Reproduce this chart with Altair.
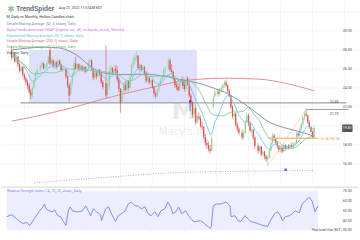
import altair as alt
import pandas as pd

FONT = "Roboto"

HOLIDAYS = [17, 33, 58, 97, 128, 143, 153]

OPEN = [
    28.0, 27.2, 27.6, 26.9, 27.3, 26.5, 25.8, 26.2, 25.4, 25.0, 24.6, 24.3, 23.6, 23.2, 24.0, 24.8, 25.5,
    25.9, 26.3, 26.6, 26.1, 26.2, 26.6, 28.0, 26.6, 26.9, 26.3, 26.7, 26.2, 26.9, 26.5, 25.9,
    26.0, 25.2, 24.3, 23.4, 24.6, 25.4, 26.6, 26.1, 26.5, 26.0, 26.3, 25.9, 26.2, 25.7, 26.0, 26.7, 26.9, 26.0, 25.1, 25.6, 25.2, 25.9, 25.5, 24.6,
    24.5, 23.3, 24.2, 25.9, 26.1, 25.6, 26.0, 25.8, 24.9, 23.9, 22.5, 23.7, 24.3, 23.8, 24.7, 24.0, 25.2, 26.4, 26.9, 27.2, 27.4, 26.1, 26.4, 25.9, 26.2, 25.6, 24.8, 25.1, 24.6, 24.8, 24.1, 23.4, 23.2, 23.8, 24.4, 24.9, 25.2, 25.9,
    26.0, 26.9, 25.9, 25.7, 25.0, 24.3, 24.1, 23.8, 24.6, 24.9, 24.4, 23.9, 25.0, 24.4, 23.2, 22.5, 21.2, 21.9, 20.4, 21.0, 20.8, 20.0, 19.9, 18.9, 18.2, 18.0, 17.6, 17.4, 22.0, 23.1,
    23.6, 23.4, 23.8, 24.0, 24.3, 24.6, 24.3, 23.7, 23.2, 22.0, 21.0, 21.3, 20.1, 19.7,
    19.3, 18.8, 19.3, 20.4, 21.1, 20.3, 19.5, 19.6, 18.8,
    17.9, 17.4, 17.8, 17.0, 17.3, 16.8, 16.5, 16.7, 17.4, 18.2, 19.0, 18.6, 18.2, 17.8, 17.5, 17.7, 17.3, 18.0, 17.6, 17.9, 17.7, 18.0, 17.8, 18.1, 18.2, 19.2, 19.0, 19.7, 20.2, 20.9, 21.3, 21.1, 20.4, 19.9, 19.4, 18.8,
]
HIGH = [
    28.4, 27.9, 27.8, 27.5, 27.4, 26.7, 26.4, 26.3, 25.6, 25.2, 24.9, 24.5, 23.9, 24.2, 25.0, 25.7, 26.1,
    26.5, 26.9, 26.7, 26.5, 26.8, 27.4, 28.2, 27.2, 27.0, 26.9, 26.8, 27.1, 27.0, 26.6, 26.4,
    26.1, 25.3, 24.5, 24.8, 25.6, 26.8, 27.3, 26.7, 26.6, 26.5, 26.4, 26.4, 26.3, 26.2, 27.0, 27.2, 27.0, 26.1, 25.8, 25.7, 26.1, 26.0, 25.6, 24.8,
    28.5, 24.6, 26.3, 26.4, 26.2, 26.2, 26.4, 26.3, 25.1, 24.0, 23.9, 24.6, 24.7, 24.9, 24.8, 25.4, 26.6, 27.2, 27.5, 27.9, 27.5, 26.6, 26.5, 26.4, 26.3, 25.7, 25.3, 25.2, 25.0, 24.9, 24.2, 23.6, 24.0, 24.6, 25.1, 25.4, 26.1, 26.3,
    27.2, 27.1, 26.5, 25.8, 25.1, 24.6, 24.5, 24.8, 25.1, 25.2, 24.9, 25.3, 25.2, 24.7, 23.4, 22.6, 22.3, 22.3, 21.2, 21.4, 21.1, 20.5, 20.0, 19.2, 18.6, 18.4, 18.0, 18.9, 23.3, 23.8,
    23.9, 24.0, 24.2, 24.5, 24.8, 24.9, 24.4, 23.9, 23.3, 22.2, 21.6, 21.4, 20.4, 19.9,
    19.6, 19.5, 20.6, 21.4, 21.3, 20.5, 19.9, 19.7, 18.9,
    18.2, 18.0, 17.9, 17.5, 17.4, 17.0, 17.0, 17.6, 18.4, 19.3, 19.2, 18.8, 18.4, 18.0, 17.9, 17.8, 18.2, 18.1, 18.0, 18.1, 18.2, 18.3, 18.3, 18.4, 19.4, 19.4, 19.9, 20.4, 21.1, 21.5, 21.73, 21.2, 20.6, 20.0, 19.5, 20.1,
]
LOW = [
    27.0, 26.9, 26.6, 26.7, 26.2, 25.6, 25.6, 25.2, 24.8, 24.3, 23.9, 23.4, 22.8, 23.0, 23.9, 24.6, 25.3,
    25.7, 26.1, 25.9, 25.9, 26.0, 26.5, 26.4, 26.4, 26.1, 26.0, 26.0, 26.1, 26.3, 25.7, 25.7,
    25.0, 24.0, 22.6, 23.2, 24.2, 25.2, 25.9, 25.9, 25.8, 25.8, 25.7, 25.8, 25.5, 25.6, 25.9, 26.3, 25.8, 24.8, 24.9, 24.9, 25.1, 25.3, 24.4, 23.8,
    22.9, 23.0, 23.8, 25.5, 25.4, 25.4, 25.6, 24.6, 23.6, 21.4, 22.3, 23.5, 23.6, 23.6, 23.7, 23.9, 25.1, 26.1, 26.5, 26.8, 25.9, 25.6, 25.7, 25.8, 25.4, 24.5, 24.6, 24.4, 24.4, 23.9, 23.1, 22.9, 23.0, 23.6, 24.2, 24.6, 25.0, 25.5,
    25.9, 25.7, 25.5, 24.8, 24.0, 23.8, 23.6, 23.7, 24.3, 23.9, 23.6, 23.7, 24.2, 23.0, 22.1, 20.9, 20.8, 20.1, 20.2, 20.6, 19.8, 19.6, 18.6, 17.9, 17.6, 17.3, 17.1, 17.3, 21.8, 22.9,
    23.1, 23.2, 23.5, 23.7, 24.0, 24.1, 23.5, 23.0, 21.8, 20.8, 20.6, 19.9, 19.4, 19.0,
    18.5, 18.6, 19.2, 20.2, 20.0, 19.3, 18.9, 18.5, 17.6,
    17.1, 17.2, 16.8, 16.6, 16.5, 16.2, 15.8, 16.5, 17.3, 18.0, 18.4, 18.0, 17.6, 17.2, 17.2, 17.1, 17.2, 17.4, 17.4, 17.5, 17.6, 17.6, 17.6, 17.9, 18.1, 18.8, 18.9, 19.5, 20.0, 20.6, 21.0, 20.2, 19.7, 19.2, 18.6, 18.7,
]
CLOSE = [
    27.2, 27.6, 26.8, 27.3, 26.5, 25.8, 26.2, 25.4, 25.0, 24.6, 24.2, 23.6, 23.2, 24.0, 24.8, 25.5, 25.9,
    26.3, 26.6, 26.1, 26.2, 26.6, 27.2, 26.6, 27.0, 26.3, 26.7, 26.2, 26.9, 26.5, 25.9, 26.1,
    25.2, 24.3, 23.2, 24.6, 25.4, 26.6, 26.1, 26.5, 26.0, 26.3, 25.9, 26.2, 25.7, 26.0, 26.7, 26.9, 26.0, 25.1, 25.6, 25.2, 25.9, 25.5, 24.6, 24.1,
    23.2, 24.4, 25.9, 26.1, 25.6, 26.0, 25.8, 24.9, 23.9, 22.4, 23.7, 24.3, 23.8, 24.7, 24.0, 25.2, 26.4, 26.9, 27.2, 27.4, 26.1, 26.4, 25.9, 26.2, 25.6, 24.8, 25.1, 24.6, 24.8, 24.1, 23.4, 23.2, 23.8, 24.4, 24.9, 25.2, 25.9, 26.0,
    26.9, 25.9, 25.7, 25.0, 24.3, 24.1, 23.8, 24.6, 24.9, 24.2, 23.9, 25.0, 24.4, 23.2, 22.5, 21.2, 21.9, 20.4, 21.0, 20.8, 20.0, 19.9, 18.9, 18.2, 18.0, 17.6, 17.4, 18.7, 23.0, 23.6,
    23.4, 23.8, 24.0, 24.3, 24.6, 24.3, 23.7, 23.2, 22.0, 21.0, 21.3, 20.1, 19.7, 19.3,
    18.8, 19.3, 20.4, 21.1, 20.3, 19.5, 19.6, 18.8, 17.9,
    17.4, 17.8, 17.0, 17.3, 16.8, 16.5, 16.7, 17.4, 18.2, 19.0, 18.6, 18.2, 17.8, 17.5, 17.7, 17.3, 18.0, 17.6, 17.9, 17.7, 18.0, 17.8, 18.1, 18.2, 19.2, 19.0, 19.7, 20.2, 20.9, 21.3, 21.1, 20.4, 19.9, 19.4, 18.8, 19.8,
]

SMA50_DAY = [0, 10, 20, 30, 36, 42, 49, 57, 69, 81, 97, 105, 117, 126, 135, 142, 149, 155, 161, 167, 173, 180, 189]
SMA50_VAL = [28.0, 28.2, 28.3, 28.2, 27.9, 27.3, 26.3, 25.6, 25.4, 25.45, 25.2, 24.9, 24.5, 24.0, 23.4, 22.7, 21.9, 21.1, 20.4, 20.0, 19.7, 19.4, 18.9]
SMA200_DAY = [0, 16, 37, 57, 77, 91, 105, 117, 133, 155, 171, 189]
SMA200_VAL = [20.5, 21.05, 21.88, 22.83, 23.66, 24.19, 24.71, 24.92, 25.03, 24.92, 24.5, 23.7]
AVWAP_DAY = [14, 60, 105, 130, 189]
AVWAP_VAL = [14.0, 14.6, 15.1, 15.2, 15.3]

RSI_DAY = [0, 3, 6, 8, 10, 12, 14, 16, 18, 20, 22, 22.8, 24, 25.8, 28, 29, 31, 32.7, 34.5, 36,
           37.4, 38.5, 40, 42.5, 44, 46, 48, 49.5, 51, 52.6, 54.5, 57, 57.6, 60, 61.8, 63.6, 66, 67.8, 69.6, 72,
           73.8, 75.6, 78, 79.8, 81.6, 84, 85.8, 87.6, 90, 91.8, 93.6, 96, 97.8, 99.6, 100.8, 102.6, 104.4, 106.2, 108.6, 110.4,
           113.4, 115.2, 117.6, 119.4, 121.2, 123.6, 124.2, 125.4, 127.2, 130, 133.2, 135.6, 136.2, 138.6, 140.4, 142.2, 144.6, 146.4, 148.2, 150.6,
           152.4, 155.4, 158.4, 160.2, 162.6, 164.4, 166.2, 167.4, 169.2, 171.6, 173.4, 175.2, 177.6, 179.4, 181.2, 183.6, 185.4, 187.2, 188.9]
RSI_VAL = [44, 46, 42, 39, 37, 38, 35, 40, 45, 50, 54, 57, 52, 50, 49, 51, 45, 44, 39, 35,
           50, 54, 50, 49, 49, 50, 55, 50, 45, 52, 49, 46, 40, 52, 54, 47, 39, 45, 47, 50,
           57, 59, 55, 55, 52, 54, 47, 45, 49, 44, 50, 52, 59, 54, 47, 49, 54, 47, 50, 45,
           39, 39, 40, 38, 35, 32, 34, 55, 57, 57, 59, 55, 44, 45, 40, 39, 45, 42, 39, 38,
           37, 35, 34, 40, 47, 49, 45, 40, 44, 45, 47, 50, 48, 57, 60, 64, 60, 49, 55]

TICK_DAYS = [8, 28, 48, 68, 88, 108, 128, 148, 168, 188, 208]
TICK_LABELS = ["13. Dec", "10. Jan", "7. Feb", "7. Mar", "4. Apr", "2. May", "30. May",
               "27. Jun", "25. Jul", "22. Aug", "19. Sep"]
PRICE_TICKS = [16, 18, 22, 24, 26, 28, 30]
GRID_PRICES = [16, 18, 20, 22, 24, 26, 28, 30, 32]
RSI_TICKS = [30, 40, 50, 60, 70]

BOX = {"d1": 11, "d2": 115.8, "p1": 22.43, "p2": 28.0}
LEVEL_2243 = 22.43
LEVEL_2173 = 21.73
FIB_LEVEL = 18.70
LAST_PRICE = "19.81"

DAYS = [i for i in range(190) if i not in HOLIDAYS]
assert len(DAYS) == len(OPEN) == len(HIGH) == len(LOW) == len(CLOSE)
assert len(RSI_DAY) == len(RSI_VAL)

cd = pd.DataFrame({"d": DAYS, "o": OPEN, "h": HIGH, "l": LOW, "c": CLOSE})
cd["dir"] = ["up" if c >= o else "down" for o, c in zip(OPEN, CLOSE)]
cd["ema10"] = cd["c"].ewm(span=10, adjust=False).mean()
cd["sma21"] = cd["c"].rolling(21, min_periods=1).mean()

W, PH, RH = 360, 183, 47
xs = alt.Scale(domain=[-3.47, 213.9], nice=False, zero=False)
ps = alt.Scale(domain=[13.93, 33.09], nice=False, zero=False)
rs = alt.Scale(domain=[26.9, 74.8], nice=False, zero=False)

ONE = pd.DataFrame({"a": [0]})


def X(f="d"):
    return alt.X(f"{f}:Q", scale=xs, axis=None)


def P(f):
    return alt.Y(f"{f}:Q", scale=ps, axis=None)


def R(f):
    return alt.Y(f"{f}:Q", scale=rs, axis=None)


def txt(px, py, s, color, size, align="left", weight="normal", font=FONT):
    return alt.Chart(ONE).mark_text(
        align=align, baseline="middle", font=font, fontSize=size, fontWeight=weight, color=color
    ).encode(x=alt.value(px), y=alt.value(py), text=alt.value(s))


def seg(d1, d2, p1, p2, color, width=1.0, **kw):
    df = pd.DataFrame({"d": [d1], "d2": [d2], "p": [p1], "p2": [p2]})
    return alt.Chart(df).mark_rule(color=color, strokeWidth=width, **kw).encode(
        x=X(), x2="d2:Q", y=P("p"), y2="p2:Q")


# ---------- price panel ----------
hgrid = alt.Chart(pd.DataFrame({"p": GRID_PRICES})).mark_rule(color="#f2f2f2", strokeWidth=0.7).encode(y=P("p"))
vgrid = alt.Chart(pd.DataFrame({"d": TICK_DAYS})).mark_rule(color="#efefef", strokeWidth=0.7).encode(x=X())
box = alt.Chart(pd.DataFrame([BOX])).mark_rect(color="#dfe0fb").encode(
    x=X("d1"), x2="d2:Q", y=P("p1"), y2="p2:Q")
wm1 = txt(184, 110, "M", "#e9e9e9", 25, align="center", weight="bold", font="DejaVu Sans")
wm2 = txt(185, 131, "Macy's Inc", "#ececec", 10, align="center", font="DejaVu Sans")

sma200 = alt.Chart(pd.DataFrame({"d": SMA200_DAY, "v": SMA200_VAL})).mark_line(
    color="#e98b8b", strokeWidth=1, interpolate="monotone").encode(x=X(), y=P("v"))
avwap = alt.Chart(pd.DataFrame({"d": AVWAP_DAY, "v": AVWAP_VAL})).mark_line(
    color="#c796e6", strokeWidth=1, strokeDash=[1, 1.5], interpolate="monotone").encode(x=X(), y=P("v"))
line2243 = seg(5.6, 209, LEVEL_2243, LEVEL_2243, "#8c8c8c", 1)

ccolor = alt.Color("dir:N", scale=alt.Scale(domain=["up", "down"], range=["#8fd19c", "#d8514c"]), legend=None)
wicks = alt.Chart(cd).mark_rule(strokeWidth=0.6).encode(x=X(), y=P("l"), y2="h:Q", color=ccolor)
bodies = alt.Chart(cd).mark_bar(size=1.2).encode(x=X(), y=P("o"), y2="c:Q", color=ccolor)

sma50 = alt.Chart(pd.DataFrame({"d": SMA50_DAY, "v": SMA50_VAL})).mark_line(
    color="#8990b6", strokeWidth=1, interpolate="monotone").encode(x=X(), y=P("v"))
sma21 = alt.Chart(cd).mark_line(color="#86cc86", strokeWidth=0.9).encode(x=X(), y=P("sma21"))
ema10 = alt.Chart(cd).mark_line(color="#6ec9ef", strokeWidth=0.9).encode(x=X(), y=P("ema10"))

fib_h = seg(160.5, 191.3, FIB_LEVEL, FIB_LEVEL, "#f7b878", 1.6, opacity=0.9)
fib_d = seg(160, 184, 15.8, LEVEL_2173, "#f5a55a", 0.7, strokeDash=[1.5, 1])
line2173 = seg(183.8, 210.4, LEVEL_2173, LEVEL_2173, "#9a9a9a", 1)

avpt = alt.Chart(pd.DataFrame({"d": [171.2], "v": [15.39]})).mark_square(
    size=6, color="#9b4dde", opacity=1).encode(x=X(), y=P("v"))
ev_line = seg(111.5, 111.5, 22.6, 21.57, "#3b4aa8", 0.7)
ev_pt = alt.Chart(pd.DataFrame({"d": [111.5], "v": [22.6]})).mark_circle(
    size=5, color="#22338f", opacity=1).encode(x=X(), y=P("v"))

plabels = alt.Chart(pd.DataFrame({"p": PRICE_TICKS, "t": [f"{v:.2f}" for v in PRICE_TICKS]})).mark_text(
    font=FONT, fontSize=3.7, color="#555", align="center", baseline="middle").encode(
    x=alt.value(348.2), y=P("p"), text="t:N")

tag = alt.Chart(ONE).mark_rect(color="#555555", cornerRadius=1).encode(
    x=alt.value(343), x2=alt.value(353.5), y=alt.value(123.5), y2=alt.value(131))

header = [
    txt(10, 7, "✱", "#9bbf9b", 9, align="center", font="DejaVu Sans"),
    txt(15, 7.3, "TrendSpider", "#6b7478", 7, weight="bold"),
    txt(58, 6.5, "Aug 23, 2022 11:57AM EDT", "#444", 3.6),
    txt(5.5, 15.8, "M, Daily vs Monthly, Hollow Candles chart", "#333", 3.7),
    txt(5.5, 22.2, "Simple Moving Average (50, 0, close), Daily", "#7d86a6", 3.7),
    txt(5.5, 28.6, "AlphaTrends Anchored VWAP (highest vol., 40, no bands, strick), Monthly", "#c77ddc", 3.7),
    txt(5.5, 34.2, "Exponential Moving Average (10, 0, close), Daily", "#4fc3e8", 3.7),
    txt(5.5, 40.0, "Simple Moving Average (200, 0, close), Daily", "#e06b6b", 3.7),
    txt(5.5, 45.7, "Simple Moving Average (21, 0, close), Daily", "#66b866", 3.7),
    txt(5.5, 51.5, "Volume, Daily", "#444", 3.7),
    txt(335, 100.6, "22.43", "#333", 3.6, align="center"),
    txt(335, 112.7, "21.73", "#333", 3.6, align="center"),
    txt(331.5, 138.3, "61.8 (18.76)", "#f0953a", 3.6, align="center"),
    txt(348.2, 127.3, LAST_PRICE, "#ffffff", 3.6, align="center"),
]

price = alt.layer(
    hgrid, vgrid, box, wm1, wm2, sma200, avwap, line2243, wicks, bodies,
    sma50, sma21, ema10, fib_h, fib_d, line2173, avpt, ev_line, ev_pt, plabels, tag, *header
).properties(width=W, height=PH)

# ---------- RSI panel ----------
rgrid = alt.Chart(pd.DataFrame({"d": TICK_DAYS})).mark_rule(color="#efefef", strokeWidth=0.7).encode(
    x=alt.X("d:Q", scale=xs, title=None, axis=alt.Axis(
        values=TICK_DAYS,
        labelExpr="[" + ",".join(f"'{t}'" for t in TICK_LABELS) + "][indexof([" + ",".join(str(v) for v in TICK_DAYS) + "], datum.value)]",
        grid=False, tickSize=2, tickColor="#999", domainColor="#999", domainWidth=1,
        labelFontSize=4, labelColor="#555", labelFont=FONT, labelPadding=1.5,
        labelOverlap=False, labelFlush=False, labelBound=False)))
band = alt.Chart(pd.DataFrame({"d": [0], "d2": [189], "a": [30], "b": [70]})).mark_rect(color="#eceefd").encode(
    x=X(), x2="d2:Q", y=R("a"), y2="b:Q")
rsi_line = alt.Chart(pd.DataFrame({"d": RSI_DAY, "v": RSI_VAL})).mark_line(
    color="#7d80f2", strokeWidth=0.9).encode(x=X(), y=R("v"))
sep = alt.Chart(ONE).mark_rule(color="#d4d4d4", strokeWidth=1).encode(y=alt.value(0.5))
rlabels = alt.Chart(pd.DataFrame({"v": RSI_TICKS, "t": [f"{v:.2f}" for v in RSI_TICKS]})).mark_text(
    font=FONT, fontSize=3.7, color="#555", align="center", baseline="middle").encode(
    x=alt.value(348.2), y=R("v"), text="t:N")
rtitle = txt(6, 4.3, "Relative Strength Index (14, 70, 30, close), Daily", "#7b80e8", 3.6)
localtime = txt(342.5, 43.6, "Your local time (EDT)", "#444", 3.2, align="right")

rsi = alt.layer(rgrid, band, sep, rsi_line, rlabels, rtitle, localtime).properties(width=W, height=RH)

chart = alt.vconcat(price, rsi, spacing=0, padding=0, background="white").resolve_scale(
    x="independent", y="independent").configure_view(stroke=None)

chart.save("out.html", embed_options={"renderer": "svg", "actions": False})
